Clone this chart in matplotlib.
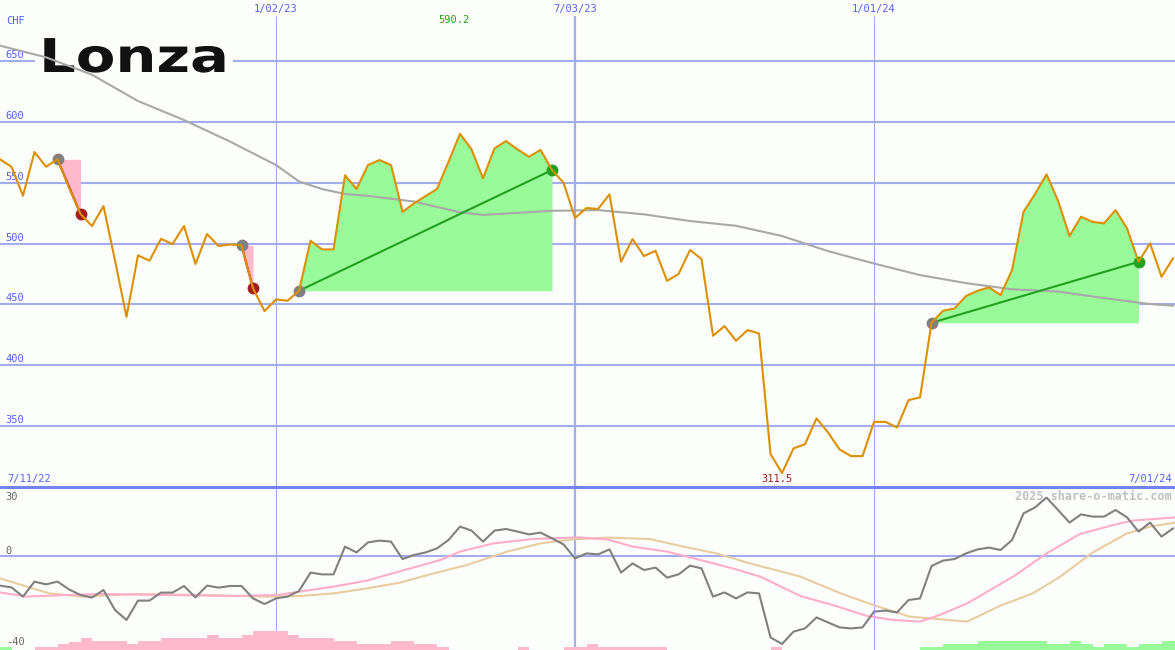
import numpy as np
import matplotlib.pyplot as plt
from matplotlib.patches import Rectangle
from matplotlib.patheffects import AbstractPathEffect
from matplotlib.transforms import Affine2D

# Weekly closing prices in CHF, week 0 = 18 Jul 2022
price = [569.2, 563.1, 539.3, 575.2, 563.1, 569.2, 546.0, 524.3, 514.4, 530.8,
         486.0, 439.8, 490.3, 485.9, 503.9, 499.6, 514.4, 483.2, 507.8, 498.0,
         499.3, 498.5, 463.2, 444.5, 454.1, 453.0, 461.2, 502.3, 495.2, 495.2,
         556.1, 544.8, 564.5, 568.6, 564.5, 526.1, 533.0, 539.0, 544.8, 567.2,
         590.2, 577.4, 553.6, 578.2, 584.2, 577.4, 571.3, 576.9, 560.4, 550.0,
         521.0, 529.2, 528.4, 540.4, 485.0, 503.7, 489.7, 494.1, 469.4, 474.9,
         494.7, 487.3, 424.2, 432.2, 420.1, 428.9, 426.2, 327.0, 311.5, 331.7,
         335.2, 356.3, 344.8, 330.9, 325.4, 325.4, 353.5, 353.5, 348.9, 371.4,
         373.6, 434.9, 444.8, 446.7, 456.9, 461.2, 464.0, 457.7, 478.2, 526.1,
         540.7, 556.9, 535.2, 506.2, 522.0, 517.9, 516.6, 527.5, 512.5, 485.0,
         500.2, 472.7, 487.8]
weeks = np.arange(len(price))

# moving average (grey line)
ma_wk = [0, 4, 8, 12, 16, 20, 24, 26, 28, 30, 32, 36, 40, 42, 44, 48, 52, 56,
         60, 64, 68, 72, 76, 80, 84, 88, 92, 96, 100, 102]
ma_val = [662.6, 653.0, 638.7, 617.1, 601.5, 583.8, 564.5, 551.0, 544.8, 540.7,
          539.2, 534.5, 525.7, 523.5, 524.7, 526.9, 527.5, 524.0, 518.5, 514.6,
          506.2, 493.8, 483.6, 474.1, 467.5, 462.4, 460.6, 455.2, 450.3, 449.0]

# lower panel oscillator
osc = [-14.8, -15.7, -20.3, -12.8, -14.2, -12.8, -16.7, -19.5, -20.8, -17.0,
       -27.0, -32.0, -22.3, -22.3, -18.3, -18.3, -15.0, -20.7, -14.8, -15.8,
       -15.0, -15.0, -21.2, -24.0, -21.2, -20.3, -17.5, -8.3, -9.2, -9.2,
       4.7, 1.8, 6.8, 7.7, 7.2, -1.5, 0.5, 1.8, 3.8, 8.0,
       14.7, 12.7, 7.2, 12.7, 13.5, 12.2, 10.8, 11.7, 8.8, 5.8,
       -1.2, 1.3, 0.8, 3.3, -8.3, -3.7, -7.0, -5.8, -10.8, -9.2,
       -4.8, -6.2, -20.3, -18.2, -21.2, -18.2, -18.7, -40.7, -44.0, -37.8,
       -36.2, -30.7, -33.2, -35.7, -36.2, -35.7, -27.8, -27.3, -28.2, -22.0,
       -21.2, -5.0, -2.3, -1.5, 1.3, 3.3, 4.2, 3.0, 8.0, 21.3,
       24.3, 29.2, 23.0, 16.7, 20.8, 19.7, 19.7, 23.0, 19.3, 12.2,
       16.7, 9.7, 13.8]

sig1_wk = [0, 2.3, 5.8, 8.7, 14.5, 20.3, 24.1, 26.1, 29, 31.9, 34.8, 38.3, 40,
           42.9, 46.3, 50.4, 52.8, 55, 58, 60.9, 63.7, 66.1, 69.6, 72.4, 75.4,
           77.7, 80, 81.7, 84.1, 88.1, 91, 93.9, 96.8, 98.5, 102.2]
sig1_val = [-18.2, -20.3, -19.5, -19.0, -19.5, -20.0, -19.5, -17.8, -15.3, -12.3,
            -7.6, -2.0, 2.2, 6.3, 8.5, 9.3, 8.3, 4.7, 2.2, -2.0, -6.2, -10.3,
            -20.0, -24.5, -30.0, -32.0, -32.8, -29.5, -23.7, -10.3, 1.3, 11.0,
            15.5, 17.7, 19.3]

sig2_wk = [0, 4.3, 7.2, 11.6, 17.4, 23.2, 26.1, 29, 31.9, 34.8, 37.7, 40.6, 44.1,
           47, 49.8, 52.8, 56.5, 59.4, 62.3, 65.2, 69.6, 73.1, 76.2, 79.1, 84.1,
           87, 89.8, 92.2, 95, 98, 100, 102.2]
sig2_val = [-11.2, -18.7, -20.3, -19.0, -19.5, -20.3, -20.0, -18.7, -16.2, -13.3,
            -8.7, -4.5, 2.2, 6.3, 8.3, 9.2, 8.5, 4.7, 1.3, -3.7, -10.3, -18.7,
            -25.0, -30.3, -32.8, -24.8, -18.7, -10.3, 1.7, 11.3, 14.7, 16.7]

hist = [1.5, 0, 0, -1.5, -1.5, -3, -4.2, -6.2, -4.5, -4.5,
        -4.5, -3, -4.5, -4.5, -6.2, -6.2, -6.2, -6.2, -7.5, -6.2,
        -6.2, -7.5, -9.7, -9.7, -9.7, -7.5, -6.2, -6.2, -6.2, -4.5,
        -4.5, -3, -3, -3, -4.5, -4.5, -3, -3, -1.5, 0,
        0, 0, 0, 0, 0, -1.5, 0, 0, 0, -1.5,
        -1.5, -3, -1.5, -1.5, -1.5, -1.5, -1.5, -1.5, 0, 0,
        0, 0, 0, 0, 0, 0, 0, -1.5, 0, 0,
        0, 0, 0, 0, 0, 0, 0, 0, 0, 0,
        1.5, 1.5, 3, 3, 3, 4.5, 4.5, 4.5, 4.5, 4.5,
        4.5, 3, 3, 4.5, 3, 1.5, 3, 3, 1.5, 3,
        3, 4.5, 4.5]

# trades: entry week, exit week
trade_in = [5, 21, 26, 81]
trade_out = [7, 22, 48, 99]

price_ticks = [350, 400, 450, 500, 550, 600, 650]
date_wk = [24, 50, 76]
date_labels = ['1/02/23', '7/03/23', '1/01/24']
date_widths = [0.8, 1.6, 0.8]

bg = '#fcfefc'
grid = '#a4acf0'
blue = '#5560ee'
mono = 'DejaVu Sans Mono'


class Stretch(AbstractPathEffect):
    # widen the logo text horizontally around its left edge (display px)
    def __init__(self, sx, x0):
        super().__init__()
        self.sx = sx
        self.x0 = x0

    def draw_path(self, renderer, gc, tpath, affine, rgbFace=None):
        st = Affine2D().translate(-self.x0, 0).scale(self.sx, 1).translate(self.x0, 0)
        renderer.draw_path(gc, tpath, affine + st, rgbFace)


fig = plt.figure(figsize=(11.75, 6.5), dpi=100)
fig.patch.set_facecolor(bg)
ax = fig.add_axes([0, 163 / 650, 1, 487 / 650])
ax2 = fig.add_axes([0, 0, 1, 163 / 650])
for a in (ax, ax2):
    a.set_axis_off()
    a.set_xlim(0, 102.17)
ax.set_ylim(300, 700.1)
ax2.set_ylim(-47, 34.5)

# grid
for t in price_ticks:
    ax.axhline(t, color=grid, lw=1.5, zorder=1)
    ax.annotate(str(t), xy=(0, t), xycoords=('axes fraction', 'data'),
                xytext=(5, 1), textcoords='offset pixels', va='bottom',
                color=blue, fontsize=7.5, family=mono)
ax.vlines(date_wk, 300, 687, colors=grid, linewidths=date_widths, zorder=1)
ax2.vlines(date_wk, -47, 34.5, colors=grid, linewidths=date_widths, zorder=1)
ax2.axhline(0, color=grid, lw=1.5, zorder=1)
ax2.axhline(34.5, color='#7482f0', lw=2.2, zorder=1, clip_on=False)

for w, lab in zip(date_wk, date_labels):
    ax.text(w, 692.6, lab, ha='center', va='center', color=blue, fontsize=7.5, family=mono)

# logo with a blank patch behind it
ax.add_patch(Rectangle((35 / 1175, 1 - 76 / 650), 198 / 1175, 42 / 650,
                       transform=fig.transFigure, fc=bg, ec='none', zorder=1.2))
ax.text(39 / 1175, 1 - 72 / 650, 'Lonza', fontsize=33.5, fontweight='bold',
        family='DejaVu Sans', va='baseline', color='#111111',
        transform=fig.transFigure, zorder=1.4,
        path_effects=[Stretch(1.24, 39)])

# trades
for a, b in zip(trade_in, trade_out):
    xs = weeks[a:b + 1]
    ys = np.array(price[a:b + 1])
    if price[b] > price[a]:
        ax.fill_between(xs, price[a], ys, color='#98fa98', lw=0, zorder=2)
        col = '#22a022'
    else:
        ax.fill_between(xs, ys, price[a], color='#ffb8cc', lw=0, zorder=2)
        col = '#a51c1c'
    ax.plot([a, b], [price[a], price[b]], color=col, lw=1.5, zorder=4)
    ax.plot(a, price[a], 'o', color='#808080', ms=7.5, zorder=4)
    ax.plot(b, price[b], 'o', color=col, ms=7.5, zorder=4)

ax.plot(ma_wk, ma_val, color='#a8a8a8', lw=1.5, zorder=3)
ax.plot(weeks, price, color='#dc9000', lw=1.5, zorder=5)

# labels
ax.text(0.5, 682.8, 'CHF', ha='left', va='center', color=blue, fontsize=7.5, family=mono)
imax = int(np.argmax(price))
imin = int(np.argmin(price))
ax.text(imax - 0.5, 683.3, f'{price[imax]:.1f}', ha='center', va='center',
        color='#20a020', fontsize=7.5, family=mono)
ax.text(imin - 0.4, 306.7, f'{price[imin]:.1f}', ha='center', va='center',
        color='#a02020', fontsize=7.5, family=mono)
ax.text(0.6, 306.4, '7/11/22', ha='left', va='center', color=blue, fontsize=7.5, family=mono)
ax.text(101.9, 306.4, '7/01/24', ha='right', va='center', color=blue, fontsize=7.5, family=mono)

# lower panel
ax2.bar(weeks, np.abs(hist), width=1, align='edge', bottom=-47,
        color=['#98fa98' if h > 0 else '#ffb8cc' for h in hist], lw=0, zorder=2)
ax2.plot(sig2_wk, sig2_val, color='#e8cca0', lw=1.5, zorder=3)
ax2.plot(sig1_wk, sig1_val, color='#ffadc8', lw=1.5, zorder=3)
ax2.plot(weeks, osc, color='#808080', lw=1.5, zorder=4)

ax2.text(0.5, 29.7, '30', ha='left', va='center', color='#666666', fontsize=7.5, family=mono)
ax2.text(0.5, 2.5, '0', ha='left', va='center', color='#666666', fontsize=7.5, family=mono)
ax2.text(0.5, -42.8, '-40', ha='left', va='center', color='#666666', fontsize=7.5, family=mono)
ax2.text(101.9, 30, '2025 share-o-matic.com', ha='right', va='center',
         color='#c0c0c0', fontsize=8.5, fontweight='bold', family=mono)

plt.savefig('out.png', dpi=100, facecolor=bg)
